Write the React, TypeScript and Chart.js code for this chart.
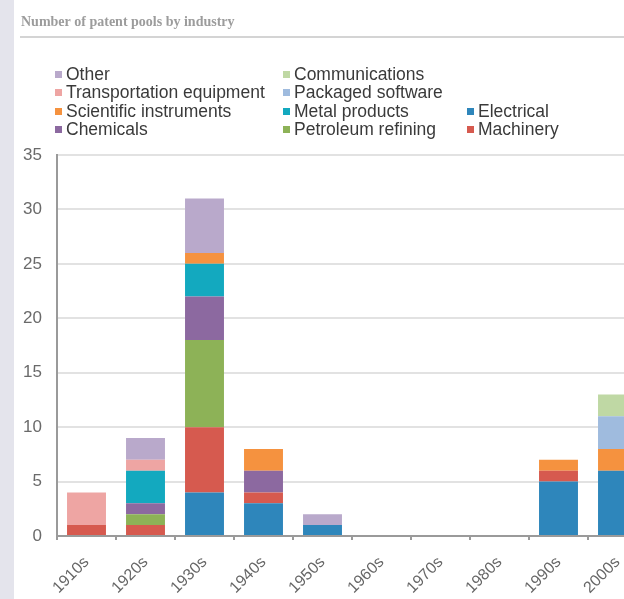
import React, { useEffect, useRef } from "react";
import { Chart, registerables } from "chart.js";

Chart.register(...registerables);

const categories = ["1910s", "1920s", "1930s", "1940s", "1950s", "1960s", "1970s", "1980s", "1990s", "2000s"];

const electrical = [0, 0, 4, 3, 1, 0, 0, 0, 5, 6];
const machinery = [1, 1, 6, 1, 0, 0, 0, 0, 1, 0];
const petroleumRefining = [0, 1, 8, 0, 0, 0, 0, 0, 0, 0];
const chemicals = [0, 1, 4, 2, 0, 0, 0, 0, 0, 0];
const metalProducts = [0, 3, 3, 0, 0, 0, 0, 0, 0, 0];
const scientificInstruments = [0, 0, 1, 2, 0, 0, 0, 0, 1, 2];
const packagedSoftware = [0, 0, 0, 0, 0, 0, 0, 0, 0, 3];
const transportationEquipment = [3, 1, 0, 0, 0, 0, 0, 0, 0, 0];
const communications = [0, 0, 0, 0, 0, 0, 0, 0, 0, 2];
const other = [0, 2, 5, 0, 1, 0, 0, 0, 0, 0];

const yMax = 35;
const yStep = 5;

const title = "Number of patent pools by industry";

const series = [
  { label: "Electrical", data: electrical, color: "#2e86bb" },
  { label: "Machinery", data: machinery, color: "#d65a4f" },
  { label: "Petroleum refining", data: petroleumRefining, color: "#8db257" },
  { label: "Chemicals", data: chemicals, color: "#8c69a0" },
  { label: "Metal products", data: metalProducts, color: "#13a9bf" },
  { label: "Scientific instruments", data: scientificInstruments, color: "#f5923f" },
  { label: "Packaged software", data: packagedSoftware, color: "#9fbbde" },
  { label: "Transportation equipment", data: transportationEquipment, color: "#eea5a3" },
  { label: "Communications", data: communications, color: "#bfd8a4" },
  { label: "Other", data: other, color: "#b9a9cb" },
];

const legendColumns: (string | null)[][] = [
  ["Other", "Transportation equipment", "Scientific instruments", "Chemicals"],
  ["Communications", "Packaged software", "Metal products", "Petroleum refining"],
  [null, null, "Electrical", "Machinery"],
];

const SANS = "'Liberation Sans', Arial, sans-serif";
const SERIF = "'Liberation Serif', 'Times New Roman', serif";

const headerPlugin = {
  id: "header",
  afterDraw(chart: any) {
    const ctx = chart.ctx as CanvasRenderingContext2D;
    ctx.save();
    // title
    ctx.font = `bold 14px ${SERIF}`;
    ctx.fillStyle = "#9c9c9c";
    ctx.textBaseline = "middle";
    ctx.textAlign = "left";
    ctx.fillText(title, 21, 22);
    // rule
    ctx.strokeStyle = "#d4d4d4";
    ctx.lineWidth = 2;
    ctx.beginPath();
    ctx.moveTo(20, 37);
    ctx.lineTo(chart.width, 37);
    ctx.stroke();
    // legend
    const colX = [55, 283, 467];
    const rowY = [74, 92, 111, 129];
    ctx.font = `17.5px ${SANS}`;
    legendColumns.forEach((col, ci) => {
      col.forEach((name, ri) => {
        if (!name) return;
        const s = series.find((x) => x.label === name);
        if (!s) return;
        ctx.fillStyle = s.color;
        ctx.fillRect(colX[ci], rowY[ri] - 3, 7, 7);
        ctx.fillStyle = "#3a3a3a";
        ctx.fillText(name, colX[ci] + 11, rowY[ri] + 1);
      });
    });
    ctx.restore();
  },
};

export default function App() {
  const ref = useRef<HTMLCanvasElement | null>(null);

  useEffect(() => {
    if (!ref.current) return;
    const chart = new Chart(ref.current, {
      type: "bar",
      data: {
        labels: categories,
        datasets: series.map((s) => ({
          label: s.label,
          data: s.data,
          backgroundColor: s.color,
          borderWidth: 0,
          categoryPercentage: 1,
          barPercentage: 0.66,
        })),
      },
      options: {
        responsive: false,
        animation: false,
        devicePixelRatio: 1,
        layout: { padding: { top: 155, left: 0, right: 13, bottom: 0 } },
        plugins: {
          legend: { display: false },
          title: { display: false },
          tooltip: { enabled: false },
        },
        scales: {
          x: {
            stacked: true,
            afterFit: (scale: any) => {
              scale.height = 63;
            },
            border: { color: "#9a9a9a", width: 2 },
            grid: {
              drawOnChartArea: false,
              drawTicks: true,
              tickLength: 4,
              color: "#9a9a9a",
              lineWidth: 2,
              offset: true,
            },
            ticks: {
              minRotation: 45,
              maxRotation: 45,
              padding: 13,
              color: "#666",
              font: { family: SANS, size: 16 },
            },
          },
          y: {
            stacked: true,
            min: 0,
            max: yMax,
            afterFit: (scale: any) => {
              scale.width = 57;
            },
            border: { color: "#9a9a9a", width: 2 },
            grid: {
              color: "#e2e2e2",
              lineWidth: 2,
              drawTicks: false,
            },
            ticks: {
              stepSize: yStep,
              padding: 15,
              color: "#6a6a6a",
              font: { family: SANS, size: 17 },
            },
          },
        },
      },
      plugins: [headerPlugin],
    });
    return () => chart.destroy();
  }, []);

  return (
    <div
      style={{
        position: "fixed",
        left: 0,
        top: 0,
        width: 624,
        height: 599,
        overflow: "hidden",
        background: "#fff",
      }}
    >
      <div
        style={{
          position: "absolute",
          left: 0,
          top: 0,
          width: 14,
          height: 599,
          background: "#e4e4ec",
        }}
      />
      <canvas
        ref={ref}
        width={660}
        height={599}
        style={{ position: "absolute", left: 0, top: 0, width: 660, height: 599 }}
      />
    </div>
  );
}
